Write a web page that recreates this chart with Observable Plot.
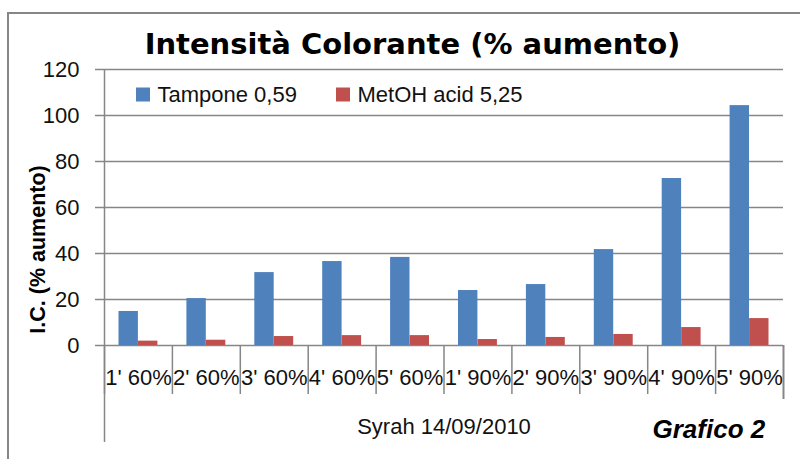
<!DOCTYPE html>
<html>
<head>
<meta charset="utf-8">
<script src="https://cdn.jsdelivr.net/npm/d3@7"></script>
<script src="https://cdn.jsdelivr.net/npm/@observablehq/plot@0.6"></script>
<style>
  html, body { margin: 0; padding: 0; background: #fff; overflow: hidden; }
  #wrap { position: relative; width: 800px; height: 459px; overflow: hidden; background: #fff; }
  #border { position: absolute; left: 7px; top: 12px; width: 900px; height: 600px; border: 2px solid #868686; box-sizing: border-box; pointer-events: none; }
  #wrap svg { position: absolute; left: 0; top: 0; }
</style>
</head>
<body>
<div id="wrap"><div id="border"></div></div>
<script>
const title = "Intensità Colorante (% aumento)";
const yTitle = "I.C. (% aumento)";
const xTitle = "Syrah 14/09/2010";
const caption = "Grafico 2";
const categories = ["1' 60%", "2' 60%", "3' 60%", "4' 60%", "5' 60%", "1' 90%", "2' 90%", "3' 90%", "4' 90%", "5' 90%"];
const seriesNames = ["Tampone 0,59", "MetOH acid 5,25"];
const seriesColors = ["#4F81BD", "#C0504D"];
const tampone = [14.8, 20.4, 31.7, 36.5, 38.3, 23.9, 26.5, 41.7, 72.6, 104.3];
const metoh = [1.9, 2.3, 3.9, 4.3, 4.3, 2.6, 3.5, 4.8, 7.8, 11.7];
const yTicks = [0, 20, 40, 60, 80, 100, 120];

const data = categories.flatMap((c, i) => [
  {category: c, series: seriesNames[0], value: tampone[i]},
  {category: c, series: seriesNames[1], value: metoh[i]}
]);

const W = 800, H = 459;
const mL = 104, mR = 17, mT = 69, mB = 114;
const step = (W - mL - mR) / categories.length;
const grid = "#868686";
const font = "Liberation Sans, Arial, sans-serif";

const chart = Plot.plot({
  width: W, height: H,
  marginLeft: mL, marginRight: mR, marginTop: mT, marginBottom: mB,
  style: {fontFamily: font, background: "transparent", overflow: "visible"},
  x: {type: "band", domain: categories, padding: 0, round: false, axis: null},
  y: {domain: [0, 120], axis: null},
  color: {domain: seriesNames, range: seriesColors},
  marks: [
    Plot.ruleY(yTicks, {y: d => d, stroke: grid, strokeWidth: 1.5}),
    Plot.axisY(yTicks, {anchor: "left", tickSize: 9, tickPadding: 16, fontSize: 22, stroke: grid, strokeWidth: 1.5, fill: "#111", label: null, tickFormat: d => String(d)}),
    // y-axis line
    Plot.ruleX([categories[0]], {x: d => d, dx: -step / 2, stroke: grid, strokeWidth: 1.5, insetBottom: -97}),
    // category boundaries
    Plot.ruleX(categories, {x: d => d, dx: -step / 2, stroke: grid, strokeWidth: 1.5, insetTop: H - mT - mB, insetBottom: -49}),
    Plot.ruleX([categories[categories.length - 1]], {x: d => d, dx: step / 2, stroke: grid, strokeWidth: 2, insetTop: H - mT - mB, insetBottom: -54}),
    Plot.barY(data.filter(d => d.series === seriesNames[0]), {x: "category", y: "value", fill: "series", insetLeft: 14.5, insetRight: 34}),
    Plot.barY(data.filter(d => d.series === seriesNames[1]), {x: "category", y: "value", fill: "series", insetLeft: 34, insetRight: 14.5}),
    // category labels
    Plot.text(categories, {x: d => d, frameAnchor: "bottom", dy: 39, lineAnchor: "bottom", fontSize: 22, fill: "#111"}),
    // x title
    Plot.text([xTitle], {frameAnchor: "bottom", dy: 88, lineAnchor: "bottom", fontSize: 22, fill: "#111"}),
    // y title
    Plot.text([yTitle], {frameAnchor: "left", dx: -60, dy: 42, rotate: -90, textAnchor: "middle", lineAnchor: "bottom", fontSize: 21.5, fontWeight: "bold", fill: "#000"}),
    // title
    Plot.text([title], {frameAnchor: "top-left", dx: 308, dy: -16, textAnchor: "middle", lineAnchor: "bottom", fontSize: 29, fontWeight: "bold", fontFamily: "DejaVu Sans", fill: "#000"}),
    // legend
    Plot.dot([seriesNames[0]], {frameAnchor: "top-left", dx: 38.5, dy: 25, symbol: "square", r: 7.9, fill: d => d, stroke: null}),
    Plot.text([seriesNames[0]], {frameAnchor: "top-left", dx: 53, dy: 32, textAnchor: "start", lineAnchor: "bottom", fontSize: 22, fill: "#111"}),
    Plot.dot([seriesNames[1]], {frameAnchor: "top-left", dx: 238.5, dy: 25, symbol: "square", r: 7.9, fill: d => d, stroke: null}),
    Plot.text([seriesNames[1]], {frameAnchor: "top-left", dx: 253, dy: 32, textAnchor: "start", lineAnchor: "bottom", fontSize: 22, fill: "#111"}),
    // caption
    Plot.text([caption], {frameAnchor: "top-left", dx: 548, dy: 368, textAnchor: "start", lineAnchor: "bottom", fontSize: 26, fontWeight: "bold", fontStyle: "italic", fill: "#000"})
  ]
});
document.getElementById("wrap").appendChild(chart);
</script>
</body>
</html>
